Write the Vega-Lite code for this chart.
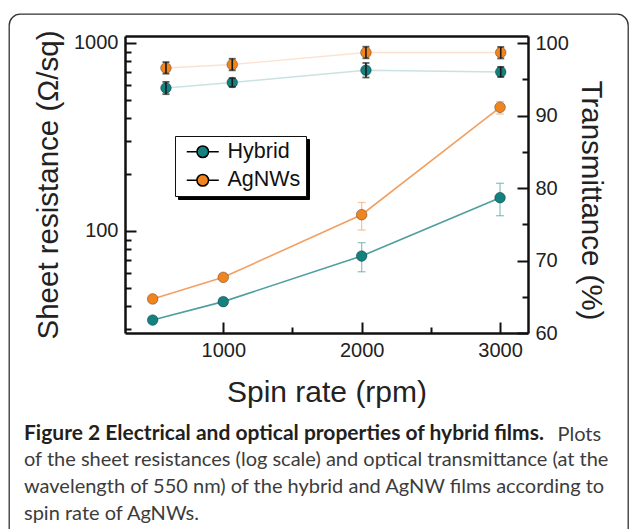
{
  "$schema": "https://vega.github.io/schema/vega-lite/v6.json",
  "width": 619,
  "height": 535,
  "autosize": {"type": "none"},
  "padding": {"left": 9, "top": 14, "right": 1, "bottom": -20},
  "background": "#ffffff",
  "config": {
    "view": {"stroke": "#333333", "strokeWidth": 1.3, "cornerRadius": 11},
    "font": "Liberation Sans",
    "axis": {
      "grid": false,
      "domainColor": "#111111",
      "domainWidth": 2.5,
      "tickColor": "#111111",
      "tickWidth": 2,
      "labelFont": "Liberation Sans",
      "labelFontSize": 20,
      "labelColor": "#222222",
      "labelFlush": false,
      "labelOverlap": false,
      "titleFont": "Liberation Sans",
      "titleFontSize": 29.5,
      "titleFontWeight": "normal",
      "titleColor": "#222222"
    }
  },
  "title": {
    "text": "Figure 2 Electrical and optical properties of hybrid films.",
    "subtitle": [
      "of the sheet resistances (log scale) and optical transmittance (at the",
      "wavelength of 550 nm) of the hybrid and AgNW films according to",
      "spin rate of AgNWs."
    ],
    "orient": "bottom",
    "anchor": "start",
    "frame": "group",
    "offset": -126,
    "dx": 15,
    "font": "Lato",
    "fontSize": 21,
    "fontWeight": "bold",
    "color": "#231f20",
    "subtitleFont": "Lato",
    "subtitleFontSize": 20,
    "subtitleColor": "#3c3c3c",
    "subtitleLineHeight": 27,
    "subtitlePadding": 6
  },
  "datasets": {
    "R": [
      {"series": "Hybrid", "rpm": 490, "R": 33.6, "lo": 32.6, "hi": 34.6},
      {"series": "Hybrid", "rpm": 1000, "R": 42.1, "lo": 40.8, "hi": 43.4},
      {"series": "Hybrid", "rpm": 2000, "R": 73.6, "lo": 60.7, "hi": 86.7},
      {"series": "Hybrid", "rpm": 3000, "R": 150.4, "lo": 120.6, "hi": 179.4},
      {"series": "AgNWs", "rpm": 490, "R": 43.5, "lo": 42.2, "hi": 44.8},
      {"series": "AgNWs", "rpm": 1000, "R": 56.7, "lo": 55.0, "hi": 58.4},
      {"series": "AgNWs", "rpm": 2000, "R": 122.1, "lo": 101.2, "hi": 141.8},
      {"series": "AgNWs", "rpm": 3000, "R": 455, "lo": 419, "hi": 488}
    ],
    "T": [
      {"series": "Hybrid", "rpm": 586, "T": 93.83, "lo": 92.97, "hi": 94.66},
      {"series": "Hybrid", "rpm": 1065, "T": 94.58, "lo": 93.98, "hi": 95.18},
      {"series": "Hybrid", "rpm": 2031, "T": 96.28, "lo": 95.27, "hi": 97.28},
      {"series": "Hybrid", "rpm": 3005, "T": 96.04, "lo": 95.34, "hi": 96.74},
      {"series": "AgNWs", "rpm": 586, "T": 96.59, "lo": 95.8, "hi": 97.4},
      {"series": "AgNWs", "rpm": 1065, "T": 97.06, "lo": 96.26, "hi": 97.86},
      {"series": "AgNWs", "rpm": 2031, "T": 98.72, "lo": 97.92, "hi": 99.52},
      {"series": "AgNWs", "rpm": 3005, "T": 98.72, "lo": 97.9, "hi": 99.49}
    ]
  },
  "layer": [
    {
      "data": {"name": "R"},
      "layer": [
        {
          "mark": {"type": "line", "strokeWidth": 1.6},
          "encoding": {
            "x": {"field": "rpm", "type": "quantitative", "title": "Spin rate (rpm)", "scale": {"type": "linear", "domain": [290, 3202], "range": [116, 519], "nice": false, "zero": false},
              "axis": {"orient": "bottom", "offset": -216, "values": [1000, 2000, 3000], "format": "d", "tickSize": -11, "labelPadding": 18, "title": "Spin rate (rpm)", "titleY": 59, "titleBaseline": "middle", "titleFontSize": 30}},
            "y": {"field": "R", "type": "quantitative", "title": "Sheet resistance (Ω/sq)", "scale": {"type": "log", "domain": [28.67, 1089.5], "range": [319, 22], "nice": false},
              "axis": {"orient": "left", "offset": -116, "values": [100, 1000], "format": "d", "tickSize": -11, "labelPadding": 18, "title": "Sheet resistance (Ω/sq)", "titleX": -77, "titleBaseline": "middle"}},
            "color": {"field": "series", "type": "nominal", "scale": {"domain": ["AgNWs", "Hybrid"], "range": ["#f2a062", "#4f9e9e"]},
              "legend": {"orient": "none", "legendX": 169, "legendY": 125, "title": null, "zindex": 1, "strokeColor": "#000000", "fillColor": "#000000", "padding": 5, "labelFont": "Liberation Sans", "labelFontSize": 21.5, "labelOffset": 26, "labelOpacity": 0, "symbolOpacity": 0, "symbolType": "M-0.667,0H1.033M2.967,0H4.667M1.033,0A0.967,0.967,0,1,1,2.967,0A0.967,0.967,0,1,1,1.033,0Z", "symbolSize": 144, "rowPadding": 5.5,
                "encode": {"symbols": {"update": {"opacity": {"value": 0}}}, "labels": {"update": {"opacity": {"value": 0}}}}}}
          }
        },
        {
          "mark": {"type": "errorbar", "ticks": {"size": 8, "thickness": 1.3}, "thickness": 1.3},
          "encoding": {
            "x": {"field": "rpm", "type": "quantitative", "title": "Spin rate (rpm)", "scale": {"type": "linear", "domain": [290, 3202], "range": [116, 519], "nice": false, "zero": false}},
            "y": {"field": "lo", "type": "quantitative", "title": "Sheet resistance (Ω/sq)", "scale": {"type": "log", "domain": [28.67, 1089.5], "range": [319, 22], "nice": false}},
            "y2": {"field": "hi"},
            "color": {"field": "series", "type": "nominal"},
            "opacity": {"value": 0.6}
          }
        },
        {
          "mark": {"type": "point", "shape": "circle", "size": 115, "stroke": "#000000", "strokeOpacity": 0.3, "strokeWidth": 1, "opacity": 1},
          "encoding": {
            "x": {"field": "rpm", "type": "quantitative", "title": "Spin rate (rpm)", "scale": {"type": "linear", "domain": [290, 3202], "range": [116, 519], "nice": false, "zero": false}},
            "y": {"field": "R", "type": "quantitative", "title": "Sheet resistance (Ω/sq)", "scale": {"type": "log", "domain": [28.67, 1089.5], "range": [319, 22], "nice": false}},
            "fill": {"field": "series", "type": "nominal", "scale": {"domain": ["Hybrid", "AgNWs"], "range": ["#128180", "#f0841f"]},
              "legend": {"orient": "none", "legendX": 166, "legendY": 122, "title": null, "zindex": 2, "strokeColor": "#111111", "fillColor": "#ffffff", "padding": 5, "labelFont": "Liberation Sans", "labelFontSize": 21.5, "labelColor": "#111111", "labelOffset": 26, "symbolType": "M-0.667,0H1.033M2.967,0H4.667M1.033,0A0.967,0.967,0,1,1,2.967,0A0.967,0.967,0,1,1,1.033,0Z", "symbolSize": 144, "symbolStrokeWidth": 1.5, "rowPadding": 5.5,
                "encode": {"symbols": {"update": {"stroke": {"scale": "color", "field": "value"}, "strokeWidth": {"value": 1.5}, "opacity": {"value": 1}}}}}}
          }
        }
      ]
    },
    {
      "data": {"name": "T"},
      "layer": [
        {
          "mark": {"type": "line", "strokeWidth": 1.4, "opacity": 0.3},
          "encoding": {
            "x": {"field": "rpm", "type": "quantitative", "title": "Spin rate (rpm)", "scale": {"type": "linear", "domain": [290, 3202], "range": [116, 519], "nice": false, "zero": false},
              "axis": {"orient": "top", "offset": -22, "ticks": false, "labels": false, "title": null}},
            "y": {"field": "T", "type": "quantitative", "title": "Transmittance (%)", "scale": {"type": "linear", "domain": [60, 101], "range": [319, 22], "nice": false, "zero": false},
              "axis": {"orient": "right", "offset": -100, "values": [60, 70, 80, 90, 100], "tickSize": -11, "labelPadding": 18, "title": "Transmittance (%)", "titleX": 62, "titleY": 186, "titleBaseline": "middle"}},
            "color": {"field": "series", "type": "nominal"}
          }
        },
        {
          "mark": {"type": "point", "shape": "circle", "size": 115, "stroke": "#000000", "strokeOpacity": 0.3, "strokeWidth": 1, "opacity": 1},
          "encoding": {
            "x": {"field": "rpm", "type": "quantitative", "title": "Spin rate (rpm)", "scale": {"type": "linear", "domain": [290, 3202], "range": [116, 519], "nice": false, "zero": false}},
            "y": {"field": "T", "type": "quantitative", "title": "Transmittance (%)", "scale": {"type": "linear", "domain": [60, 101], "range": [319, 22], "nice": false, "zero": false}},
            "fill": {"field": "series", "type": "nominal"}
          }
        },
        {
          "mark": {"type": "errorbar", "color": "#1a1a1a", "ticks": {"size": 7, "thickness": 1.8}, "thickness": 1.6},
          "encoding": {
            "x": {"field": "rpm", "type": "quantitative", "title": "Spin rate (rpm)", "scale": {"type": "linear", "domain": [290, 3202], "range": [116, 519], "nice": false, "zero": false}},
            "y": {"field": "lo", "type": "quantitative", "title": "Transmittance (%)", "scale": {"type": "linear", "domain": [60, 101], "range": [319, 22], "nice": false, "zero": false}},
            "y2": {"field": "hi"}
          }
        }
      ]
    },
    {
      "data": {"name": "R"},
      "mark": {"type": "point", "opacity": 0},
      "encoding": {
        "x": {"field": "rpm", "type": "quantitative", "scale": {"type": "linear", "domain": [290, 3202], "range": [116, 519], "nice": false, "zero": false},
          "axis": {"orient": "bottom", "offset": -216, "values": [1500, 2500], "tickSize": -6, "labels": false, "domain": false, "title": "Plots", "titleFont": "Lato", "titleFontSize": 20, "titleFontWeight": "normal", "titleColor": "#3c3c3c", "titleX": 548, "titleY": 91, "titleAlign": "left", "titleBaseline": "top", "titleAngle": 0}},
        "y": {"field": "R", "type": "quantitative", "scale": {"type": "log", "domain": [28.67, 1089.5], "range": [319, 22], "nice": false},
          "axis": {"orient": "left", "offset": -116, "values": [30, 40, 50, 60, 70, 80, 90, 200, 300, 400, 500, 600, 700, 800, 900], "tickSize": -6, "labels": false, "domain": false, "title": null}}
      }
    },
    {
      "data": {"name": "T"},
      "mark": {"type": "point", "opacity": 0},
      "encoding": {
        "x": {"field": "rpm", "type": "quantitative", "scale": {"type": "linear", "domain": [290, 3202], "range": [116, 519], "nice": false, "zero": false}, "axis": null},
        "y": {"field": "T", "type": "quantitative", "scale": {"type": "linear", "domain": [60, 101], "range": [319, 22], "nice": false, "zero": false},
          "axis": {"orient": "right", "offset": -100, "values": [65, 75, 85, 95], "tickSize": -6, "labels": false, "domain": false, "title": null}}
      }
    }
  ],
  "resolve": {"scale": {"y": "independent"}, "axis": {"x": "independent", "y": "independent"}}
}
